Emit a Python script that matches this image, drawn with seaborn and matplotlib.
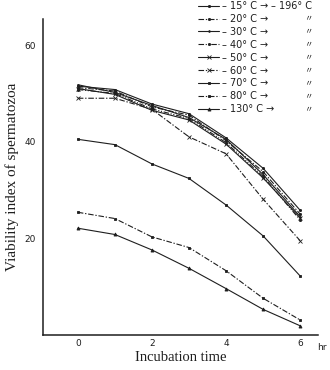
import matplotlib
matplotlib.use("Agg")
import matplotlib.pyplot as plt
import seaborn as sns
import numpy as np
import pandas as pd

hours = [0, 1, 2, 3, 4, 5, 6]
temps = ["15", "20", "30", "40", "50", "60", "70", "80", "130"]
v15 = [51.5, 50.8, 47.8, 45.8, 40.8, 34.5, 25.8]
v20 = [51.2, 50.5, 47.2, 45.5, 40.2, 33.8, 25.0]
v30 = [51.8, 50.2, 47.5, 45.0, 40.5, 33.2, 24.5]
v40 = [50.8, 50.0, 46.8, 44.8, 39.8, 32.8, 23.8]
v50 = [51.0, 49.8, 46.5, 44.5, 39.5, 32.5, 24.2]
v60 = [49.0, 49.0, 46.7, 41.0, 37.5, 28.1, 19.5]
v70 = [40.5, 39.4, 35.4, 32.4, 26.9, 20.5, 12.2]
v80 = [25.4, 24.1, 20.3, 18.1, 13.3, 7.6, 3.1]
v130 = [22.1, 20.8, 17.6, 13.8, 9.6, 5.3, 1.9]
series = [v15, v20, v30, v40, v50, v60, v70, v80, v130]
y_ticks = [10, 20, 30, 40, 50, 60]
y_ticklabels = ["", "20", "", "40", "", "60"]
x_ticks = [0, 1, 2, 3, 4, 5, 6]
x_ticklabels = ["0", "", "2", "", "4", "", "6"]

sns.set_style("white")
plt.rcParams['font.family'] = ['DejaVu Sans']

ink = "#1e1e1e"
dd = (0, (5, 1.6, 1.2, 1.6))
ddd = (0, (5, 1.5, 1, 1.5, 1, 1.5))
styles = [
    dict(linestyle="-", marker="o", markersize=1.6),
    dict(linestyle=dd, marker="o", markersize=1.6),
    dict(linestyle="-", marker="o", markersize=1.2),
    dict(linestyle=ddd, marker="o", markersize=1.6),
    dict(linestyle="-", marker="x", markersize=2.5),
    dict(linestyle=dd, marker="x", markersize=2.5),
    dict(linestyle="-", marker="s", markersize=1.8),
    dict(linestyle=dd, marker="s", markersize=1.8),
    dict(linestyle="-", marker="^", markersize=2.2),
]

fig = plt.figure(figsize=(3.3, 3.7), dpi=100)
ax = fig.add_axes([43 / 330, 1 - 335 / 370, (318 - 43) / 330, (335 - 19) / 370])

for vals, st in zip(series, styles):
    df = pd.DataFrame({"hour": hours, "value": vals})
    sns.lineplot(data=df, x="hour", y="value", ax=ax, color=ink, linewidth=0.8,
                 markeredgecolor=ink, markerfacecolor=ink, markeredgewidth=0.6, **st)

ax.set_xlim(-0.94, 6.48)
ax.set_ylim(0, 65.4)
ax.set_xticks(x_ticks)
ax.set_xticklabels(x_ticklabels)
ax.set_yticks(y_ticks)
ax.set_yticklabels(y_ticklabels)
ax.tick_params(axis="both", direction="in", length=3, width=0.8, colors=ink, labelsize=6.5)
ax.tick_params(axis="y", pad=5)
ax.tick_params(axis="x", pad=3)
for s in ["top", "right"]:
    ax.spines[s].set_visible(False)
for s in ["left", "bottom"]:
    ax.spines[s].set_color(ink)
    ax.spines[s].set_linewidth(1.1)

ax.set_xlabel("Incubation time", family="Liberation Serif", fontsize=10.5, color=ink, labelpad=2)
ax.set_ylabel("Viability index of spermatozoa", family="Liberation Serif", fontsize=11, color=ink, labelpad=4)

fig.text(322 / 330, 1 - 348 / 370, "hr", fontsize=6.5, color=ink, ha="center", va="center")

labels = ["– %s° C →" % t for t in temps]
leg = ax.legend(handles=ax.lines[:9], labels=labels, loc="upper left",
                bbox_to_anchor=(198 / 330, 1 - 1 / 370), bbox_transform=fig.transFigure,
                frameon=False, fontsize=7, handlelength=2.2, handletextpad=0.3,
                labelspacing=0.3, borderpad=0, borderaxespad=0)
for t in leg.get_texts():
    t.set_color(ink)

fig.canvas.draw()
inv = fig.transFigure.inverted()
for i, t in enumerate(leg.get_texts()):
    bb = t.get_window_extent()
    yc = inv.transform((0, (bb.y0 + bb.y1) / 2))[1]
    if i == 0:
        fig.text(bb.x1 / fig.bbox.width + 0.008, yc, "– 196° C", fontsize=7, color=ink,
                 ha="left", va="center")
    else:
        fig.text(308 / 330, yc, "〃", fontsize=6, color=ink, ha="center", va="center",
                 family=["Noto Sans CJK JP", "DejaVu Sans"])

fig.savefig("out.png", dpi=100)
